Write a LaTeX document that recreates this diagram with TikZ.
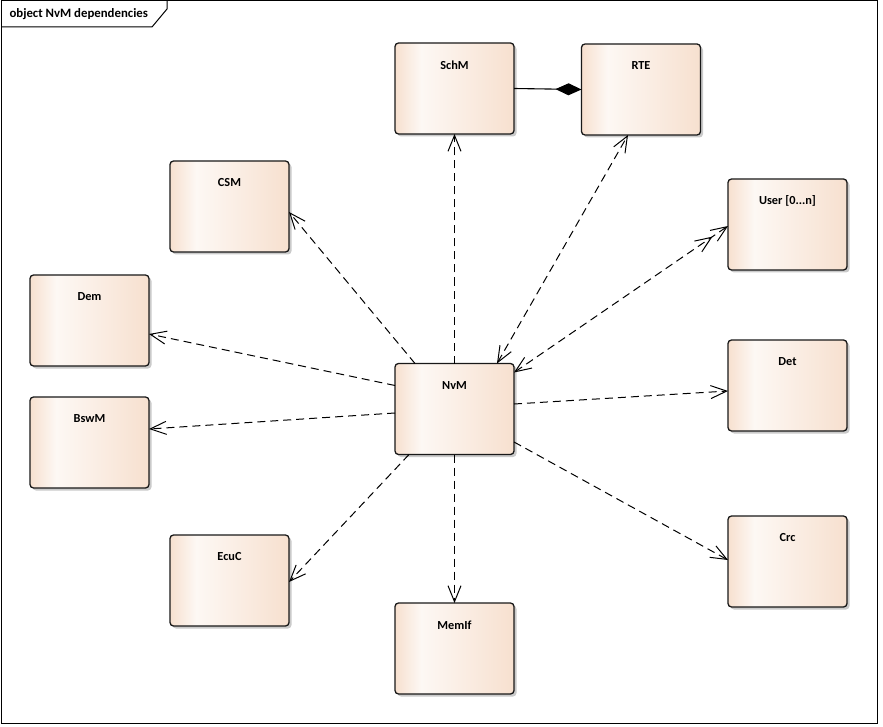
\documentclass[tikz,border=0pt]{standalone}
\usepackage{fontspec}
\setmainfont{Carlito}
\usetikzlibrary{arrows.meta,shadows,calc}
\definecolor{pe}{RGB}{247,224,207}
\definecolor{wh}{RGB}{253,248,244}
\pgfdeclarehorizontalshading{boxshade}{100bp}{color(0bp)=(pe); color(25bp)=(pe); color(36bp)=(wh); color(75bp)=(pe); color(100bp)=(pe)}
\tikzset{
  box/.style={draw=black!90, line width=1.3pt, rounded corners=3.5pt, shading=boxshade,
    minimum width=119pt, minimum height=91pt, inner sep=0pt, outer sep=0pt,
    drop shadow={shadow xshift=2.5pt, shadow yshift=-2.5pt, fill=black!35, opacity=0.6}},
  lbl/.style={font=\bfseries\fontsize{12.3}{14}\selectfont, anchor=center, yshift=-22pt},
  dep/.style={line width=1pt, dash pattern=on 8pt off 5pt, -{Straight Barb[length=16pt,width=13pt]}},
  depboth/.style={line width=1pt, dash pattern=on 8pt off 5pt, {Straight Barb[length=16pt,width=13pt]}-{Straight Barb[length=16pt,width=13pt]}},
}
\begin{document}
\begin{tikzpicture}[x=1pt,y=-1pt]
\useasboundingbox (0,0) rectangle (883,727);
\draw[line width=1pt] (1,1) rectangle (877,723);
\draw[line width=1pt] (1,27) -- (152,27) -- (167,9) -- (167,1);
\node[font=\bfseries\fontsize{12.8}{14}\selectfont, anchor=west] (title) at (6,14.5) {object NvM dependencies};

\node[box, label={[lbl]north:SchM}] (schm) at (454.5,88.5) {};
\node[box, label={[lbl]north:RTE}] (rte) at (641,89.5) {};
\node[box, label={[lbl]north:CSM}] (csm) at (229.5,206.5) {};
\node[box, label={[lbl]north:User [0...n]}] (user) at (787.5,224.5) {};
\node[box, label={[lbl]north:Dem}] (dem) at (89.5,320.5) {};
\node[box, label={[lbl]north:Det}] (det) at (787.5,385.5) {};
\node[box, label={[lbl]north:NvM}] (nvm) at (454.5,409) {};
\node[box, label={[lbl]north:BswM}] (bswm) at (89.5,442.5) {};
\node[box, label={[lbl]north:Crc}] (crc) at (787.5,561.5) {};
\node[box, label={[lbl]north:EcuC}] (ecuc) at (229.5,580.5) {};
\node[box, label={[lbl]north:MemIf}] (memif) at (454.5,648.5) {};

\draw[line width=1.1pt, -{Diamond[length=26pt,width=12pt]}] (schm.east) -- (rte.west);

\draw[dep] (nvm.north) -- (schm.south);
\draw[depboth] ([xshift=42.5pt]nvm.north) -- ([xshift=-13pt]rte.south);
\draw[depboth, {Straight Barb[length=16pt,width=13pt]}-{Straight Barb[length=16pt,width=13pt,sep=1pt]Straight Barb[length=16pt,width=13pt]}] ([yshift=-9pt]nvm.north east) -- ([yshift=-1.5pt]user.west);
\draw[dep] ([xshift=-39.5pt]nvm.north) -- ([yshift=-5.5pt]csm.east);
\draw[dep] ([yshift=-22pt]nvm.north west) -- ([yshift=-13.5pt]dem.east);
\draw[dep] ([yshift=-4pt]nvm.west) -- ([yshift=13.5pt]bswm.east);
\draw[dep] ([yshift=5pt]nvm.east) -- ([yshift=-5.5pt]det.west);
\draw[dep] ([yshift=-33pt]nvm.east) -- ([yshift=1.5pt]crc.west);
\draw[dep] ([xshift=-45.5pt]nvm.south) -- ([yshift=-1.5pt]ecuc.east);
\draw[dep] (nvm.south) -- (memif.north);
\end{tikzpicture}
\end{document}
